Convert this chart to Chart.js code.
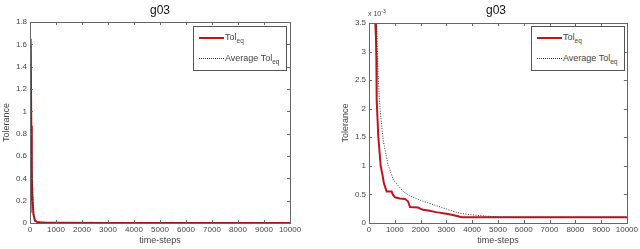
<!DOCTYPE html>
<html lang="en">
<head>
<meta charset="UTF-8">
<title>g03 tolerance</title>
<script src="https://cdn.jsdelivr.net/npm/chart.js"></script>
<style>
  body { margin: 0; background: #fff; font-family: 'Liberation Sans', Arial, sans-serif; }
  .panel { position: absolute; top: 0; width: 320px; height: 249px; }
  .title { position: absolute; top: 3px; font-size: 12px; color: #111; transform: translateX(-50%); }
  .legend { position: absolute; top: 26px; width: 92px; height: 43px; border: 1px solid #555; background: #fff; font-size: 9px; color: #444; }
  .sample { position: absolute; left: 5px; width: 25px; height: 0; }
  .lbl { position: absolute; left: 31px; white-space: nowrap; line-height: 10px; }
  .lbl sub { font-size: 6.5px; vertical-align: -3px; line-height: 0; }
  .expo { position: absolute; left: 48px; top: 10px; font-size: 7px; color: #444; }
  .expo sup { font-size: 5px; vertical-align: 3px; line-height: 0; }
</style>
</head>
<body>
  <div class="panel" style="left:0">
    <canvas id="left" width="320" height="249"></canvas>
    <div class="title" style="left:160px">g03</div>
    <div class="legend" style="left:193px">
      <div class="sample" style="top:10px; border-top:2px solid #c0141c"></div>
      <div class="lbl" style="top:5px">Tol<sub>eq</sub></div>
      <div class="sample" style="top:31px; border-top:1px dotted #333"></div>
      <div class="lbl" style="top:26px">Average Tol<sub>eq</sub></div>
    </div>
  </div>
  <div class="panel" style="left:320px">
    <canvas id="right" width="320" height="249"></canvas>
    <div class="title" style="left:176px">g03</div>
    <div class="expo">x 10<sup>-3</sup></div>
    <div class="legend" style="left:211px">
      <div class="sample" style="top:10px; border-top:2px solid #c0141c"></div>
      <div class="lbl" style="top:5px">Tol<sub>eq</sub></div>
      <div class="sample" style="top:31px; border-top:1px dotted #333"></div>
      <div class="lbl" style="top:26px">Average Tol<sub>eq</sub></div>
    </div>
  </div>

  <script>
    // tick labels
    const xTicks = [0, 1000, 2000, 3000, 4000, 5000, 6000, 7000, 8000, 9000, 10000];
    const leftYTicks = [0, 0.2, 0.4, 0.6, 0.8, 1, 1.2, 1.4, 1.6, 1.8];
    const rightYTicks = [0, 0.5, 1, 1.5, 2, 2.5, 3, 3.5]; // x 10^-3

    // left panel: full range
    const leftSteps = [0, 10, 38, 50, 70, 90, 130, 190, 300, 600, 1000, 3000, 10000];
    const leftTol = [0.1, 0.9, 1.65, 0.87, 0.45, 0.26, 0.08, 0.02, 0.006, 0.003, 0.002, 0.001, 0.001];
    const leftAvg = [0.1, 0.85, 1.6, 1.0, 0.6, 0.35, 0.12, 0.03, 0.01, 0.005, 0.003, 0.0015, 0.001];

    // right panel: zoomed, values in units of 10^-3
    const rightTolSteps = [200, 245, 270, 285, 298, 361, 453, 520, 581, 686, 880, 920, 1008, 1200, 1395, 1512, 1589, 1899, 2093, 2300, 2600, 3000, 3250, 3527, 3600, 10000];
    const rightTol = [4.5, 3.5, 3.25, 2.9, 2.15, 1.51, 1.0, 0.85, 0.69, 0.55, 0.55, 0.5, 0.45, 0.43, 0.42, 0.38, 0.28, 0.27, 0.23, 0.22, 0.19, 0.16, 0.14, 0.11, 0.1, 0.1];
    const rightAvgSteps = [250, 298, 350, 426, 550, 749, 950, 1330, 1600, 2100, 2700, 3300, 3527, 3950, 4550, 5195, 6000, 10000];
    const rightAvg = [4.5, 3.5, 2.6, 2.0, 1.45, 1.0, 0.75, 0.55, 0.47, 0.38, 0.29, 0.2, 0.17, 0.145, 0.12, 0.105, 0.1, 0.1];

    Chart.defaults.font.family = "'Liberation Sans', Arial, sans-serif";
    Chart.defaults.color = '#444';

    const toPoints = (xs, ys) => xs.map((x, i) => ({ x: x, y: ys[i] }));

    // box around the plot with inward ticks on all sides
    const matlabFrame = {
      id: 'matlabFrame',
      afterDraw(chart) {
        const { ctx, chartArea: a, scales } = chart;
        ctx.save();
        ctx.strokeStyle = '#666';
        ctx.lineWidth = 1;
        ctx.beginPath();
        scales.x.ticks.forEach(t => {
          const px = Math.round(scales.x.getPixelForValue(t.value)) + 0.5;
          ctx.moveTo(px, a.bottom); ctx.lineTo(px, a.bottom - 3);
          ctx.moveTo(px, a.top); ctx.lineTo(px, a.top + 3);
        });
        scales.y.ticks.forEach(t => {
          const py = Math.round(scales.y.getPixelForValue(t.value)) + 0.5;
          ctx.moveTo(a.left, py); ctx.lineTo(a.left + 3, py);
          ctx.moveTo(a.right, py); ctx.lineTo(a.right - 3, py);
        });
        ctx.stroke();
        ctx.strokeRect(Math.round(a.left) + 0.5, Math.round(a.top) + 0.5,
          Math.round(a.right - a.left), Math.round(a.bottom - a.top));
        ctx.restore();
      }
    };

    function makeChart(id, tolData, avgData, yTicks, yMax, yWidth, padRight, padTop, titlePad) {
      return new Chart(document.getElementById(id), {
        type: 'line',
        data: {
          datasets: [
            {
              label: 'Average Tol_eq',
              data: avgData,
              borderColor: '#333',
              borderWidth: 1,
              borderDash: [1, 1.5],
              pointRadius: 0,
              tension: 0
            },
            {
              label: 'Tol_eq',
              data: tolData,
              borderColor: '#c0141c',
              borderWidth: 2,
              pointRadius: 0,
              tension: 0
            }
          ]
        },
        options: {
          responsive: false,
          animation: false,
          layout: { padding: { left: 0, right: padRight, top: padTop, bottom: 0 } },
          plugins: { legend: { display: false }, tooltip: { enabled: false } },
          scales: {
            x: {
              type: 'linear',
              min: 0,
              max: 10000,
              afterBuildTicks: s => { s.ticks = xTicks.map(v => ({ value: v })); },
              afterFit: s => { s.height = 26; },
              grid: { display: false, drawTicks: false },
              border: { display: false },
              ticks: { autoSkip: false, maxRotation: 0, padding: 2, font: { size: 8 }, callback: v => String(v) },
              title: { display: true, text: 'time-steps', font: { size: 9 }, padding: { top: 0, bottom: 3 } }
            },
            y: {
              min: 0,
              max: yMax,
              afterBuildTicks: s => { s.ticks = yTicks.map(v => ({ value: v })); },
              afterFit: s => { s.width = yWidth; },
              grid: { display: false, drawTicks: false },
              border: { display: false },
              ticks: { autoSkip: false, padding: 3, font: { size: 8 }, callback: v => String(v) },
              title: { display: true, text: 'Tolerance', font: { size: 9 }, padding: { top: titlePad, bottom: 0 } }
            }
          }
        },
        plugins: [matlabFrame]
      });
    }

    makeChart('left', toPoints(leftSteps, leftTol), toPoints(leftSteps, leftAvg),
      leftYTicks, 1.8, 30, 30, 22, 1);
    makeChart('right', toPoints(rightTolSteps, rightTol), toPoints(rightAvgSteps, rightAvg),
      rightYTicks, 3.5, 49, 13, 23, 20);
  </script>
</body>
</html>
